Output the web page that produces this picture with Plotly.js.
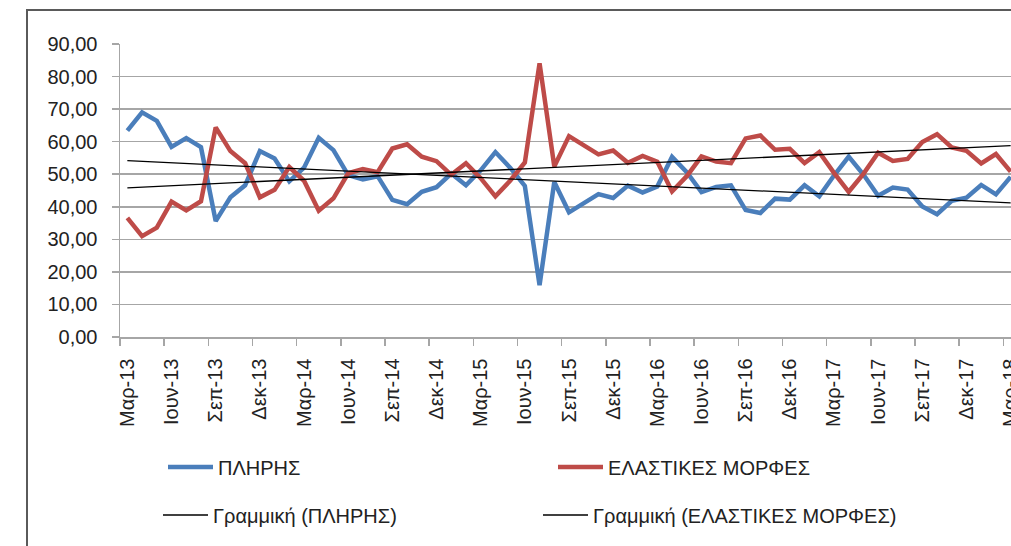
<!DOCTYPE html>
<html>
<head>
<meta charset="utf-8">
<script src="https://cdn.plot.ly/plotly-3.0.1.min.js"></script>
<style>
html, body { margin: 0; padding: 0; overflow: hidden; background: #fff; width: 1011px; height: 546px; }
#chart { position: absolute; left: 0; top: 0; }
#frame { position: absolute; left: 26px; top: 9px; width: 1100px; height: 600px;
  border-left: 2px solid #5a5a5a; border-top: 2px solid #5a5a5a; pointer-events: none; }
</style>
</head>
<body>
<div id="chart"></div>
<div id="frame"></div>
<script>
// Month labels (Mar-13 .. Mar-18)
const months = [
  'Μαρ-13','Απρ-13','Μαϊ-13','Ιουν-13','Ιουλ-13','Αυγ-13','Σεπ-13','Οκτ-13','Νοε-13','Δεκ-13','Ιαν-14','Φεβ-14',
  'Μαρ-14','Απρ-14','Μαϊ-14','Ιουν-14','Ιουλ-14','Αυγ-14','Σεπ-14','Οκτ-14','Νοε-14','Δεκ-14','Ιαν-15','Φεβ-15',
  'Μαρ-15','Απρ-15','Μαϊ-15','Ιουν-15','Ιουλ-15','Αυγ-15','Σεπ-15','Οκτ-15','Νοε-15','Δεκ-15','Ιαν-16','Φεβ-16',
  'Μαρ-16','Απρ-16','Μαϊ-16','Ιουν-16','Ιουλ-16','Αυγ-16','Σεπ-16','Οκτ-16','Νοε-16','Δεκ-16','Ιαν-17','Φεβ-17',
  'Μαρ-17','Απρ-17','Μαϊ-17','Ιουν-17','Ιουλ-17','Αυγ-17','Σεπ-17','Οκτ-17','Νοε-17','Δεκ-17','Ιαν-18','Φεβ-18',
  'Μαρ-18'
];

// ΠΛΗΡΗΣ (full-time), %
const pliris = [
  63.4, 69.0, 66.4, 58.4, 61.1, 58.3, 35.6, 42.9, 46.6, 57.1, 54.8, 47.8,
  52.0, 61.2, 57.4, 49.7, 48.4, 49.4, 42.1, 40.8, 44.6, 46.0, 50.2, 46.6,
  51.2, 56.8, 52.0, 46.4, 15.9, 47.6, 38.3, 41.1, 43.9, 42.7, 46.5, 44.4,
  46.2, 55.3, 50.6, 44.5, 46.1, 46.6, 39.0, 38.1, 42.5, 42.2, 46.6, 43.2,
  49.6, 55.4, 49.9, 43.4, 45.9, 45.3, 40.1, 37.7, 41.8, 42.8, 46.7, 43.8,
  49.2
];

// ΕΛΑΣΤΙΚΕΣ ΜΟΡΦΕΣ (flexible forms), %
const elastikes = [
  36.6, 31.0, 33.6, 41.6, 38.9, 41.7, 64.4, 57.1, 53.4, 42.9, 45.2, 52.2,
  48.0, 38.8, 42.6, 50.3, 51.6, 50.6, 57.9, 59.2, 55.4, 54.0, 49.8, 53.4,
  48.8, 43.2, 48.0, 53.6, 84.1, 52.4, 61.7, 58.9, 56.1, 57.3, 53.5, 55.6,
  53.8, 44.7, 49.4, 55.5, 53.9, 53.4, 61.0, 61.9, 57.5, 57.8, 53.4, 56.8,
  50.4, 44.6, 50.1, 56.6, 54.1, 54.7, 59.9, 62.3, 58.2, 57.2, 53.3, 56.2,
  50.8
];

const seriesNames = ['ΠΛΗΡΗΣ', 'ΕΛΑΣΤΙΚΕΣ ΜΟΡΦΕΣ'];
const trendNames = ['Γραμμική (ΠΛΗΡΗΣ)', 'Γραμμική (ΕΛΑΣΤΙΚΕΣ ΜΟΡΦΕΣ)'];
const yTicks = [0, 10, 20, 30, 40, 50, 60, 70, 80, 90];

const xIdx = months.map((m, i) => i);
const labelIdx = xIdx.filter(i => i % 3 === 0);
const labelText = labelIdx.map(i => months[i]);

// Excel-style linear trendline (least squares)
function linFit(xs, ys) {
  const n = xs.length;
  let sx = 0, sy = 0, sxx = 0, sxy = 0;
  for (let i = 0; i < n; i++) { sx += xs[i]; sy += ys[i]; sxx += xs[i]*xs[i]; sxy += xs[i]*ys[i]; }
  const b = (n*sxy - sx*sy) / (n*sxx - sx*sx);
  const a = (sy - b*sx) / n;
  return xs.map(x => a + b*x);
}

const font = 'Liberation Sans, Arial, sans-serif';
const traces = [
  { x: xIdx, y: pliris, name: seriesNames[0], type: 'scatter', mode: 'lines',
    line: { color: '#4a7ebb', width: 4.5 }, text: months, legend: 'legend' },
  { x: xIdx, y: elastikes, name: seriesNames[1], type: 'scatter', mode: 'lines',
    line: { color: '#be4b48', width: 4.5 }, text: months, legend: 'legend' },
  { x: xIdx, y: linFit(xIdx, pliris), name: trendNames[0], type: 'scatter', mode: 'lines',
    line: { color: '#000', width: 1.3 }, legend: 'legend2' },
  { x: xIdx, y: linFit(xIdx, elastikes), name: trendNames[1], type: 'scatter', mode: 'lines',
    line: { color: '#000', width: 1.3 }, legend: 'legend2' }
];

const W = 1030, H = 546;
const legendCommon = {
  orientation: 'h', xanchor: 'left', yanchor: 'middle',
  xref: 'container', yref: 'container',
  entrywidthmode: 'pixels', itemwidth: 45,
  font: { family: font, size: 20, color: '#222' }, bgcolor: 'rgba(0,0,0,0)'
};

const layout = {
  width: W, height: H,
  margin: { l: 120, r: 12, t: 44, b: 209, autoexpand: false },
  paper_bgcolor: '#fff', plot_bgcolor: '#fff',
  separators: ',.',
  showlegend: true,
  font: { family: font, size: 20, color: '#222' },
  xaxis: {
    type: 'linear', range: [-0.5, 60.5],
    tickmode: 'array', tickvals: labelIdx, ticktext: labelText,
    tickangle: -90, ticks: '', ticklabelstandoff: 12,
    showgrid: false, zeroline: false,
    showline: true, linecolor: '#a6a6a6', linewidth: 1.5,
    tickfont: { family: font, size: 20, color: '#222' },
    minor: { tick0: -0.5, dtick: 3, ticks: 'outside', ticklen: 7, tickwidth: 1.5, tickcolor: '#a6a6a6', showgrid: false }
  },
  yaxis: {
    range: [0, 90], tickmode: 'array', tickvals: yTicks, tickformat: '.2f',
    ticks: 'outside', ticklen: 7, tickwidth: 1.5, tickcolor: '#a6a6a6',
    ticklabelstandoff: 10,
    showgrid: true, gridcolor: '#a6a6a6', gridwidth: 1.5,
    zeroline: false, showline: true, linecolor: '#a6a6a6', linewidth: 1.5,
    tickfont: { family: font, size: 20, color: '#222' }
  },
  legend: Object.assign({ x: 163 / W, y: 1 - 467 / H, entrywidth: 330 }, legendCommon),
  legend2: Object.assign({ x: 158 / W, y: 1 - 515 / H, entrywidth: 320 }, legendCommon)
};

Plotly.newPlot('chart', traces, layout, { displayModeBar: false, staticPlot: true });
</script>
</body>
</html>
